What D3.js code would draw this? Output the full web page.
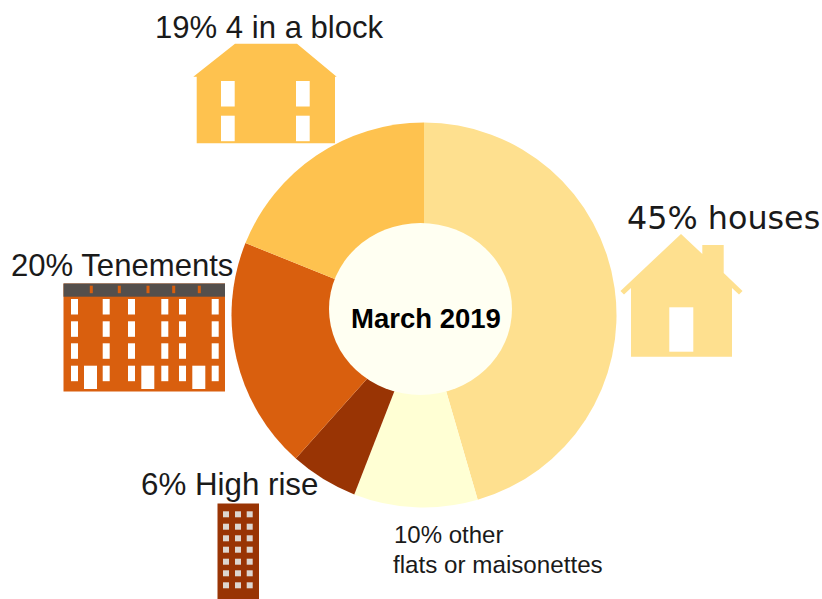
<!DOCTYPE html>
<html><head><meta charset="utf-8">
<script src="https://cdnjs.cloudflare.com/ajax/libs/d3/7.8.5/d3.min.js"></script>
<style>html,body{margin:0;padding:0;background:#fff}svg{display:block}text{font-family:"Liberation Sans",Arial,sans-serif;fill:#1a1a1a}</style>
</head><body><svg id="c" width="822" height="599"></svg>
<script>
const categories = ["houses","other flats or maisonettes","High rise","Tenements","4 in a block"];
const shares = [45.5,10.4,5.7,19.5,18.9];
const colors = ["#fee08f","#ffffd4","#993404","#d95f0e","#fec24f"];
const svg = d3.select("#c");
const pie = d3.pie().sort(null).value(d=>d)(shares);
const arc = d3.arc().innerRadius(0).outerRadius(192.5);
const g = svg.append("g").attr("transform","translate(424,315)");
g.selectAll("path").data(pie).join("path").attr("d",arc).attr("fill",(d,i)=>colors[i]);
svg.append("ellipse").attr("cx",420.5).attr("cy",309).attr("rx",91.5).attr("ry",86).attr("fill","#fffff2");
svg.append("text").attr("text-anchor","middle").attr("x",426).attr("y",327.5).attr("font-size",27.5).attr("font-weight","bold").style("fill","#000").text("March 2019");

function label(x,y,size,text,font){const t=svg.append("text").attr("x",x).attr("y",y).attr("font-size",size).text(text);if(font)t.style("font-family",font);return t;}
label(155,38,31.1,"19% 4 in a block");
label(11,275.5,31.1,"20% Tenements");
label(141,494.5,31.3,"6% High rise");
label(627,229,31.8,"45% houses","'DejaVu Sans'");
label(394,542.5,24,"10% other");
label(393,572.5,24.2,"flats or maisonettes");

function rect(p,x,y,w,h,f){p.append("rect").attr("x",x).attr("y",y).attr("width",w).attr("height",h).attr("fill",f);}
// 4 in a block icon
const b=svg.append("g");
b.append("path").attr("fill",colors[4]).attr("d","M193.3 76.7 L235 43.7 L297 43.7 L336.7 76.7 L335 76.7 L335 143.3 L196.7 143.3 L196.7 76.7 Z");
[221,296].forEach(x=>{rect(b,x,81,13.7,25.5,"#fff");rect(b,x,115.7,13.7,25.5,"#fff");});
// tenement icon
const t=svg.append("g");
rect(t,63.5,283.5,161.5,108,colors[3]);
rect(t,63.5,283.5,161.5,13.2,"#544f4c");
[91.3,119.3,148,173.7,199.3].forEach(x=>rect(t,x-1.5,285.7,3,7.5,colors[3]));
const cols=[71,102.7,128,161.3,179,211.7];
[299,321.3,343.3,365.7].forEach(y=>cols.forEach(x=>rect(t,x,y,7,15.5,"#fff")));
[84,141.3,192.3].forEach(x=>rect(t,x,365.7,13,23.3,"#fff"));
// high rise icon
const h=svg.append("g");
rect(h,217.5,503.5,41.5,95.5,colors[2]);
[511.3,523.7,535.3,546.7,558.7,570.3,582.3].forEach(y=>[223,235,246.7].forEach(x=>rect(h,x,y,6,6,"#ddd6d0")));
// house icon
const o=svg.append("g");
o.append("path").attr("fill",colors[0]).attr("d","M620.5 291 L681 234 L702.3 254 L702.3 245 L723.7 245 L723.7 273 L742.5 291 L739 294.5 L732 288 L732 356.7 L631 356.7 L631 288 L624 294.5 Z");
rect(o,669.3,307.3,24,44.4,"#fff");
</script></body></html>
